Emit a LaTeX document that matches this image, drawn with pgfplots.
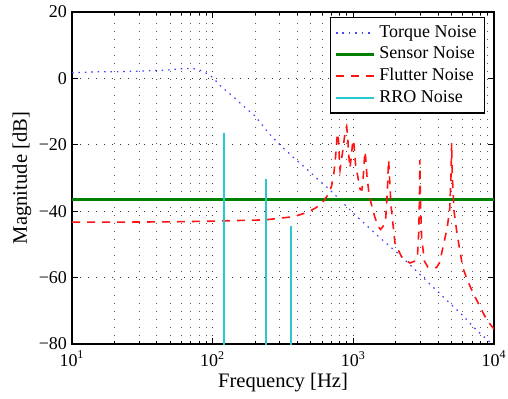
\documentclass[border=0pt]{standalone}
\usepackage{pgfplots}
\pgfplotsset{compat=1.18}
\usepackage{fontspec}
\setmainfont{Liberation Serif}
\definecolor{torq}{RGB}{70,70,255}
\definecolor{sens}{RGB}{0,128,0}
\definecolor{flut}{RGB}{255,20,20}
\definecolor{rro}{RGB}{40,200,205}
\begin{document}
\begin{tikzpicture}
\begin{axis}[
  scale only axis, width=211pt, height=166pt,
  xmode=log, log basis x=10,
  xmin=10, xmax=10000, ymin=-80, ymax=20,
  xtick={10,100,1000,10000},
  minor xtick={20,30,40,50,60,70,80,90,200,300,400,500,600,700,800,900,2000,3000,4000,5000,6000,7000,8000,9000},
  xticklabels={10\textsuperscript{1},10\textsuperscript{2},10\textsuperscript{3},10\textsuperscript{4}},
  ytick={-80,-60,-40,-20,0,20},
  yticklabels={\textminus80,\textminus60,\textminus40,\textminus20,0,20},
  tick align=inside,
  major tick length=3pt, minor tick length=1.5pt,
  tick style={black, line width=0.5pt},
  axis line style={line width=0.8pt},
  grid=both,
  major grid style={black!80, line width=0.5pt, dash pattern=on 0.6pt off 3.4pt},
  minor grid style={black!65, line width=0.5pt, dash pattern=on 0.6pt off 3.4pt},
  tick label style={font=\fontsize{9}{10}\selectfont},
  label style={font=\fontsize{10.3}{12}\selectfont},
  xlabel={Frequency [Hz]}, ylabel={Magnitude [dB]},
  xlabel style={at={([yshift=-21.5pt]axis description cs:0.5,0)}, anchor=base},
  ylabel style={at={([xshift=-25pt]axis description cs:0,0.5)}, anchor=center},
  yticklabel style={xshift=1pt},
  legend style={at={(0.979,0.985)}, anchor=north east, draw=black, line width=0.6pt,
    font=\fontsize{9}{10}\selectfont, fill=white, inner sep=2pt, row sep=-0.8pt},
  legend cell align=left,
  legend image code/.code={\draw[#1] (0pt,0pt) -- (19pt,0pt);},
]
\coordinate (sw) at (rel axis cs:0,0);
% Torque noise
\addplot[torq, line width=0.6pt, dash pattern=on 0.8pt off 2.4pt] coordinates {
(10,1.7) (15.8,2.0) (20,2.0) (30,2.2) (40,2.4) (47,2.5) (55,2.8) (65,3.0) (74,2.9) (81,2.5) (90,1.6) (100,0.3) (115,-2.5) (140,-5.5) (170,-8.8) (200,-11.3) (250,-16.5) (300,-20) (380,-24) (475,-27.6) (580,-31) (683,-33.6) (800,-36.5) (1000,-40.6) (1500,-47.5) (2140,-53.2) (3000,-59.2) (4000,-64.3) (4850,-67.7) (6000,-71.4) (7500,-75.8) (9300,-79.3) (10000,-80.5)
};
\addlegendentry{Torque Noise}
% Sensor noise
\addplot[sens, line width=1.3pt] coordinates {(10,-36.4) (10000,-36.4)};
\addlegendentry{Sensor Noise}
% Flutter noise
\addplot[flut, line width=0.8pt, dash pattern=on 4pt off 3.5pt] coordinates {
(10,-43.3) (20,-43.3) (50,-43.2) (100,-43.0) (150,-42.8) (200,-42.7) (250,-42.5) (300,-42.1) (350,-41.8) (400,-41.3) (450,-40.6) (500,-39.8) (550,-38.8) (600,-37.5) (650,-35.5) (700,-32.5) (730,-28) (750,-23) (765,-18) (775,-16.5) (785,-19) (797,-25) (805,-27.5) (820,-25) (840,-22) (860,-18.5) (880,-15.5) (896,-14.5) (910,-17) (928,-23) (946,-27) (965,-24) (985,-20) (1004,-18.5) (1020,-22) (1040,-26.5) (1060,-28) (1090,-31) (1120,-33.5) (1150,-33.6) (1175,-30) (1195,-25) (1210,-22) (1225,-24) (1250,-29.5) (1300,-35.6) (1420,-41.7) (1500,-44.5) (1560,-45.5) (1630,-44.5) (1700,-42) (1745,-34) (1770,-27) (1782,-24.6) (1800,-28) (1850,-38) (1977,-49.6) (2200,-53.7) (2525,-55.6) (2750,-55) (2860,-53) (2920,-46) (2955,-35) (2973,-24.6) (2995,-36) (3060,-48) (3200,-55) (3400,-57) (3900,-57) (4100,-55.5) (4330,-51) (4650,-45) (4850,-39) (4950,-29) (5000,-19.5) (5050,-29) (5200,-40) (5450,-46.5) (6000,-57) (6500,-61) (7100,-64.6) (8000,-69) (8900,-72.8) (10000,-75.5)
};
\addlegendentry{Flutter Noise}
% RRO noise
\addplot[rro, line width=1pt, unbounded coords=jump] coordinates {
(120,-85) (120,-16.5) (180,nan) (240,-85) (240,-30.4) (300,nan) (360,-85) (360,-44.5)
};
\addlegendentry{RRO Noise}
\end{axis}
\pgfresetboundingbox
\path[use as bounding box] ([shift={(-36pt,-27pt)}]sw) rectangle ++(254pt,199pt);
\end{tikzpicture}
\end{document}
